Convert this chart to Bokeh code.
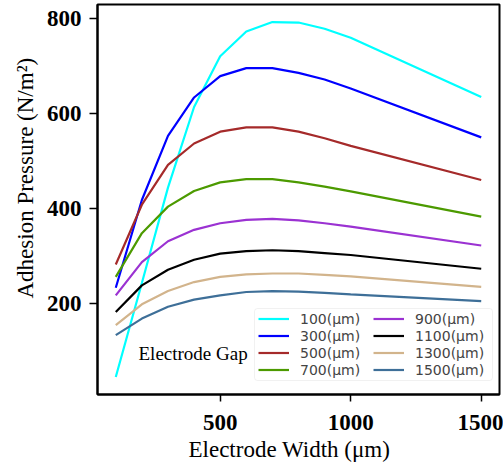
from bokeh.plotting import figure
from bokeh.models import (Range1d, FixedTicker, Legend, LegendItem, Label, BoxAnnotation, Title)
from bokeh.embed import file_html
from bokeh.resources import INLINE

# ---- data ----
width_um = [100, 200, 300, 400, 500, 600, 700, 800, 900, 1000, 1500]
gap_labels = ["100(μm)", "300(μm)", "500(μm)", "700(μm)",
              "900(μm)", "1100(μm)", "1300(μm)", "1500(μm)"]
gap_100 = [45, 243, 444, 614, 721, 773, 793, 792, 779, 760, 635]
gap_300 = [233, 418, 553, 634, 679, 696, 696, 686, 672, 653, 550]
gap_500 = [282, 408, 492, 537, 562, 571, 571, 562, 548, 532, 460]
gap_700 = [256, 348, 404, 437, 455, 462, 462, 455, 446, 436, 383]
gap_900 = [217, 287, 331, 355, 369, 376, 378, 375, 369, 362, 322]
gap_1100 = [182, 238, 271, 292, 305, 310, 312, 310, 306, 302, 273]
gap_1300 = [154, 198, 226, 245, 256, 261, 263, 263, 260, 257, 235]
gap_1500 = [133, 168, 193, 208, 217, 224, 226, 225, 222, 219, 205]
series = [gap_100, gap_300, gap_500, gap_700, gap_900, gap_1100, gap_1300, gap_1500]
colors = ["#00ffff", "#0000ff", "#a52a2a", "#4c9a00",
          "#9b32d2", "#000000", "#d2b48c", "#3e6f98"]
x_ticks = [500, 1000, 1500]
y_ticks = [200, 400, 600, 800]

SERIF = "Liberation Serif"

p = figure(width=503, height=470, output_backend="svg", toolbar_location=None,
           x_range=Range1d(30, 1570), y_range=Range1d(8, 830),
           min_border_left=97, min_border_right=4, min_border_top=4, min_border_bottom=76)
p.xgrid.visible = False
p.ygrid.visible = False
p.outline_line_color = "black"
p.outline_line_width = 2
p.background_fill_color = "white"
p.border_fill_color = "white"

for ax, ticks in ((p.xaxis, x_ticks), (p.yaxis, y_ticks)):
    ax.ticker = FixedTicker(ticks=ticks)
    ax.minor_tick_line_color = None
    ax.major_tick_in = 0
    ax.axis_line_width = 2
    ax.major_tick_line_width = 1.5
    ax.major_label_text_font = SERIF
    ax.major_label_text_font_style = "bold"
    ax.major_label_text_font_size = "23px"
    ax.major_label_text_color = "black"
p.xaxis.major_tick_out = 7
p.yaxis.major_tick_out = 8
p.xaxis.major_label_standoff = 13
p.yaxis.major_label_standoff = 8

xtitle = Title(text="Electrode Width (μm)", align="left", offset=91,
               text_font=SERIF, text_font_style="normal", text_font_size="23px",
               text_color="black", standoff=5)
p.add_layout(xtitle, "below")

ytitle = Title(text="Adhesion Pressure (N/m²)", align="left", offset=96,
               text_font=SERIF, text_font_style="normal", text_font_size="23px",
               text_color="black", standoff=12)
p.add_layout(ytitle, "left")

renderers = []
for ys, c in zip(series, colors):
    r = p.line(width_um, ys, line_color=c, line_width=2.2)
    renderers.append(r)

# legend frame
box = BoxAnnotation(left=157, right=395, bottom=14, top=86,
                    left_units="screen", right_units="screen",
                    bottom_units="screen", top_units="screen",
                    fill_color="white", fill_alpha=0.8,
                    line_color="#d0d0d0", line_width=1, border_radius=3)
p.add_layout(box)

for col in range(2):
    items = [LegendItem(label=gap_labels[i], renderers=[renderers[i]])
             for i in range(col * 4, col * 4 + 4)]
    leg = Legend(items=items, location=(161 if col == 0 else 276, 16),
                 orientation="vertical", padding=0, margin=0, spacing=0,
                 glyph_width=31, glyph_height=17, label_height=17,
                 label_standoff=11, label_text_font="DejaVu Sans",
                 label_text_font_size="14px", border_line_color=None,
                 background_fill_alpha=0)
    p.add_layout(leg)

p.add_layout(Label(x=41, y=41, x_units="screen", y_units="screen",
                   text="Electrode Gap", text_font=SERIF, text_font_size="19px",
                   text_baseline="alphabetic", text_color="black"))

open("out.html", "w").write(file_html(p, INLINE))
